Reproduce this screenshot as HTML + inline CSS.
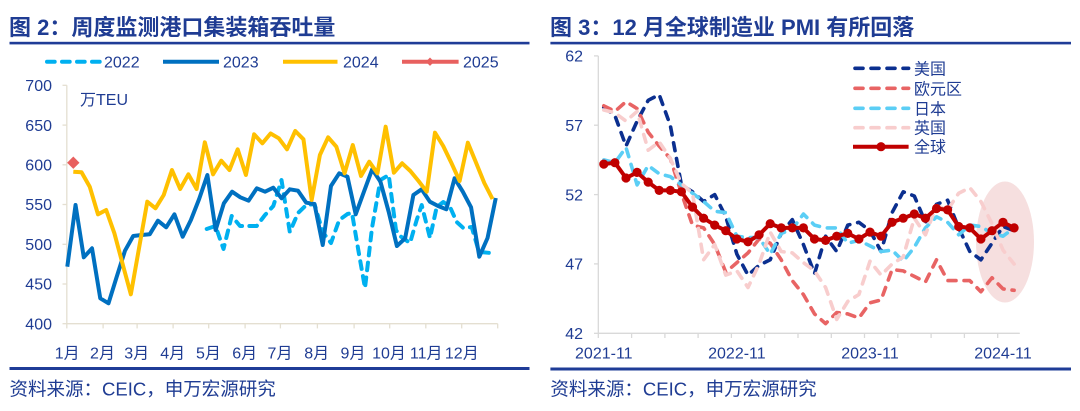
<!DOCTYPE html>
<html>
<head>
<meta charset="utf-8">
<style>
html,body{margin:0;padding:0;background:#fff;}
body{width:1080px;height:411px;overflow:hidden;}
svg{display:block;}
text{font-family:"Liberation Sans","Noto Sans CJK SC",sans-serif;fill:#1F3C93;}
</style>
</head>
<body>
<svg width="1080" height="411" viewBox="0 0 1080 411" xmlns="http://www.w3.org/2000/svg">
<!-- ================= LEFT PANEL ================= -->
<text x="9" y="35" font-size="22" font-weight="bold" fill="#17398F">图 2：周度监测港口集装箱吞吐量</text>
<rect x="9.5" y="41.8" width="520" height="2.6" fill="#1F3C97"/>

<!-- legend -->
<line x1="47" y1="61.7" x2="100" y2="61.7" stroke="#00B0F0" stroke-width="4" stroke-dasharray="7.7,7.3" stroke-linecap="round"/>
<text x="104" y="67.4" font-size="16">2022</text>
<line x1="163" y1="61.7" x2="219" y2="61.7" stroke="#0070C0" stroke-width="4"/>
<text x="223" y="67.4" font-size="16">2023</text>
<line x1="283" y1="61.7" x2="337.5" y2="61.7" stroke="#FFC000" stroke-width="4"/>
<text x="343" y="67.4" font-size="16">2024</text>
<line x1="402" y1="61.7" x2="458.6" y2="61.7" stroke="#E8605F" stroke-width="4"/>
<polygon points="430,57.5 434.2,61.7 430,65.9 425.8,61.7" fill="#E8605F"/>
<text x="463" y="67.4" font-size="16">2025</text>

<!-- axes -->
<g stroke="#E4DFD1" stroke-width="1.3" fill="none">
<line x1="66.8" y1="85.3" x2="66.8" y2="323.7"/>
<line x1="66.8" y1="323.7" x2="497.7" y2="323.7"/>
<line x1="62.5" y1="85.3" x2="66.8" y2="85.3"/>
<line x1="62.5" y1="125.1" x2="66.8" y2="125.1"/>
<line x1="62.5" y1="164.8" x2="66.8" y2="164.8"/>
<line x1="62.5" y1="204.5" x2="66.8" y2="204.5"/>
<line x1="62.5" y1="244.3" x2="66.8" y2="244.3"/>
<line x1="62.5" y1="284.0" x2="66.8" y2="284.0"/>
<line x1="62.5" y1="323.7" x2="66.8" y2="323.7"/>
<line x1="66.8" y1="323.7" x2="66.8" y2="328.4"/>
<line x1="103.1" y1="323.7" x2="103.1" y2="328.4"/>
<line x1="137.1" y1="323.7" x2="137.1" y2="328.4"/>
<line x1="173.1" y1="323.7" x2="173.1" y2="328.4"/>
<line x1="208.7" y1="323.7" x2="208.7" y2="328.4"/>
<line x1="245.1" y1="323.7" x2="245.1" y2="328.4"/>
<line x1="280.4" y1="323.7" x2="280.4" y2="328.4"/>
<line x1="317.4" y1="323.7" x2="317.4" y2="328.4"/>
<line x1="354.1" y1="323.7" x2="354.1" y2="328.4"/>
<line x1="389.7" y1="323.7" x2="389.7" y2="328.4"/>
<line x1="425.8" y1="323.7" x2="425.8" y2="328.4"/>
<line x1="461.7" y1="323.7" x2="461.7" y2="328.4"/>
<line x1="497.7" y1="323.7" x2="497.7" y2="328.4"/>
</g>

<g font-size="16" text-anchor="end">
<text x="52" y="91">700</text>
<text x="52" y="130.8">650</text>
<text x="52" y="170.5">600</text>
<text x="52" y="210.2">550</text>
<text x="52" y="250">500</text>
<text x="52" y="289.7">450</text>
<text x="52" y="329.4">400</text>
</g>
<text x="80" y="105" font-size="16">万TEU</text>

<g font-size="16" text-anchor="middle">
<text x="67.2" y="358.5">1月</text>
<text x="102.5" y="358.5">2月</text>
<text x="136.7" y="358.5">3月</text>
<text x="172.7" y="358.5">4月</text>
<text x="208.4" y="358.5">5月</text>
<text x="244.7" y="358.5">6月</text>
<text x="280" y="358.5">7月</text>
<text x="316.7" y="358.5">8月</text>
<text x="353" y="358.5">9月</text>
<text x="389" y="358.5">10月</text>
<text x="426.2" y="358.5">11月</text>
<text x="461.8" y="358.5">12月</text>
</g>

<!-- 2022 dashed -->
<polyline fill="none" stroke="#00B0F0" stroke-width="4" stroke-dasharray="7.7,7.3" stroke-linecap="round" stroke-linejoin="round"
points="206.7,229 215.5,226 223.5,249 231.7,216 240,226 248.5,226 256.7,226 265,215 273.3,206 281.5,180 289.8,232 298,213 306.3,205 314.5,204 322.7,232 331,243 339.2,220 347.5,214 352,213 358.3,250 365,288 372,228 380.4,180 388.7,175 396,230 400,236 410,243 416.7,220 421.7,205 430,238 436.7,207 443.3,202 450,207 456.7,222 463.3,228 471.7,227 479,252 491,253"/>

<!-- 2023 -->
<polyline fill="none" stroke="#0070C0" stroke-width="4" stroke-linejoin="round"
points="67.3,266.7 75.54,205 83.78,257.3 92.02,248.3 100.26,298.3 108.5,303.3 116.74,276.7 124.98,250.7 133.22,236 141.46,235 149.7,234.3 157.94,220.7 166.18,227.3 174.42,214.3 182.66,236.7 190.9,220 199.14,199 207.38,175 215.62,230 223.86,203.3 232.1,191.7 240.34,197.3 248.58,200.7 256.82,188.3 265.06,191.7 273.3,187.7 281.54,198.3 289.78,189.3 298.02,190.7 306.26,202.7 314.5,204 322.74,245 330.98,186 339.22,173.3 347.46,176.7 355.7,214.3 363.94,191.7 372.18,169.3 380.42,181.7 388.66,211.7 396.9,246 405.14,238.3 413.38,195 421.62,189.3 429.86,201.7 438.1,206 446.34,209.3 454.58,178.3 462.82,191.7 471.06,207.3 479.3,256.7 487.54,238 495.78,198"/>

<!-- 2024 -->
<polyline fill="none" stroke="#FFC000" stroke-width="4" stroke-linejoin="round"
points="73.3,171.7 81.52,172.3 89.74,186.7 97.96,214.3 106.18,210 114.4,233.3 122.62,264 130.84,294.3 139.06,248 147.28,201.7 155.5,208.3 163.72,195 171.94,170 180.16,189 188.38,174.3 196.6,189 204.82,142.3 213.04,174.3 221.26,160.7 229.48,170 237.7,149.3 245.92,175 254.14,134.3 262.36,143.3 270.58,133.5 278.8,138.3 287.02,149.3 295.24,131 303.46,139.3 311.68,200 319.9,155 328.12,137.3 336.34,146.7 344.56,173.3 352.78,145 361,176 369.22,161.7 377.44,173.3 385.66,126.7 393.88,172.7 402.1,163.3 410.32,171 418.54,181 426.76,191.7 434.98,132.7 443.2,146 451.42,163 459.64,181 467.86,142.7 476.08,162.7 484.3,183 492.52,199"/>

<!-- 2025 -->
<polygon points="73.3,156.5 79.5,162.7 73.3,168.9 67.1,162.7" fill="#E8605F"/>

<rect x="9.5" y="367" width="520" height="3" fill="#1F3C97"/>
<text x="9.5" y="395.3" font-size="18.5">资料来源：CEIC，申万宏源研究</text>

<!-- ================= RIGHT PANEL ================= -->
<text x="550" y="35" font-size="22" font-weight="bold" fill="#17398F">图 3：12 月全球制造业 PMI 有所回落</text>
<rect x="550.4" y="41.8" width="520.6" height="2.6" fill="#1F3C97"/>

<!-- highlight ellipse -->
<ellipse cx="1005" cy="242" rx="29" ry="60.5" fill="#F6DFDF"/>

<!-- axes -->
<g stroke="#D9D9D9" stroke-width="1.3" fill="none">
<line x1="598.3" y1="55.9" x2="598.3" y2="333.3"/>
<line x1="598.3" y1="333.3" x2="1019.8" y2="333.3"/>
<line x1="594" y1="55.9" x2="598.3" y2="55.9"/>
<line x1="594" y1="125.2" x2="598.3" y2="125.2"/>
<line x1="594" y1="194.6" x2="598.3" y2="194.6"/>
<line x1="594" y1="263.9" x2="598.3" y2="263.9"/>
<line x1="594" y1="333.3" x2="598.3" y2="333.3"/>
<line x1="598.3" y1="333.3" x2="598.3" y2="338"/>
<line x1="631.6" y1="333.3" x2="631.6" y2="338"/>
<line x1="664.9" y1="333.3" x2="664.9" y2="338"/>
<line x1="698.1" y1="333.3" x2="698.1" y2="338"/>
<line x1="731.4" y1="333.3" x2="731.4" y2="338"/>
<line x1="764.7" y1="333.3" x2="764.7" y2="338"/>
<line x1="798" y1="333.3" x2="798" y2="338"/>
<line x1="831.3" y1="333.3" x2="831.3" y2="338"/>
<line x1="864.5" y1="333.3" x2="864.5" y2="338"/>
<line x1="897.8" y1="333.3" x2="897.8" y2="338"/>
<line x1="931.1" y1="333.3" x2="931.1" y2="338"/>
<line x1="964.4" y1="333.3" x2="964.4" y2="338"/>
<line x1="997.7" y1="333.3" x2="997.7" y2="338"/>
</g>

<g font-size="16" text-anchor="end">
<text x="583" y="61.6">62</text>
<text x="583" y="130.9">57</text>
<text x="583" y="200.3">52</text>
<text x="583" y="269.6">47</text>
<text x="583" y="339">42</text>
</g>
<g font-size="16" text-anchor="middle">
<text x="603.8" y="358.5">2021-11</text>
<text x="736.9" y="358.5">2022-11</text>
<text x="870" y="358.5">2023-11</text>
<text x="1003" y="358.5">2024-11</text>
</g>

<!-- US -->
<polyline fill="none" stroke="#0B2F8F" stroke-width="3.6" stroke-dasharray="8,8" stroke-linecap="round" stroke-linejoin="round"
points="603.8,107.2 614.9,115.5 626,146.1 637.1,121.1 648.2,100.3 659.2,94.7 670.3,125.3 681.4,184.9 692.5,191.8 703.6,201.5 714.7,194.6 725.8,216.8 736.9,254.2 748,275.1 759.1,265.3 770.2,259.8 781.2,233.4 792.3,219.6 803.4,244.5 814.5,273.7 825.6,236.2 836.7,251.5 847.8,225.1 858.9,222.3 870,230.7 881.1,251.5 892.1,212.6 903.2,191.8 914.3,196 925.4,222.3 936.5,204.3 947.6,200.2 958.7,227.9 969.8,251.5 980.9,259.8 992,243.2 1003,226.5 1014.1,230.7"/>

<!-- Eurozone -->
<polyline fill="none" stroke="#E86464" stroke-width="3.6" stroke-dasharray="8,8" stroke-linecap="round" stroke-linejoin="round"
points="603.8,105.8 614.9,111.4 626,101.7 637.1,108.6 648.2,132.2 659.2,146.1 670.3,158.5 681.4,193.2 692.5,225.1 703.6,227.9 714.7,244.5 725.8,272.3 736.9,262.6 748,252.9 759.1,239 770.2,243.2 781.2,259.8 792.3,280.6 803.4,294.5 814.5,313.9 825.6,323.6 836.7,312.5 847.8,313.9 858.9,318 870,302.8 881.1,300 892.1,269.5 903.2,270.9 914.3,276.4 925.4,282 936.5,259.8 947.6,280.6 958.7,280.6 969.8,280.6 980.9,291.7 992,277.8 1003,288.9 1014.1,290.3"/>

<!-- Japan -->
<polyline fill="none" stroke="#5BCEF5" stroke-width="3.6" stroke-dasharray="8,8" stroke-linecap="round" stroke-linejoin="round"
points="603.8,159.9 614.9,162.7 626,147.4 637.1,184.9 648.2,165.5 659.2,173.8 670.3,176.6 681.4,184.9 692.5,193.2 703.6,201.5 714.7,211.2 725.8,212.6 736.9,236.2 748,237.6 759.1,237.6 770.2,254.2 781.2,233.4 792.3,229.3 803.4,214 814.5,225.1 825.6,227.9 836.7,227.9 847.8,243.2 858.9,240.4 870,245.9 881.1,251.5 892.1,250.1 903.2,261.2 914.3,247.3 925.4,227.9 936.5,216.8 947.6,222.3 958.7,234.8 969.8,225.1 980.9,226.5 992,233.4 1003,236.2 1014.1,227.9"/>

<!-- UK -->
<polyline fill="none" stroke="#F8CDCD" stroke-width="3.6" stroke-dasharray="8,8" stroke-linecap="round" stroke-linejoin="round"
points="603.8,110 614.9,112.8 626,121.1 637.1,111.4 648.2,150.2 659.2,141.9 670.3,158.5 681.4,183.5 692.5,193.2 703.6,259.8 714.7,244.5 725.8,275.1 736.9,270.9 748,287.5 759.1,264 770.2,232.1 781.2,251.5 792.3,252.9 803.4,262.6 814.5,270.9 825.6,287.5 836.7,319.4 847.8,301.4 858.9,294.5 870,261.2 881.1,275.1 892.1,264 903.2,257 914.3,218.2 925.4,234.8 936.5,205.7 947.6,209.9 958.7,193.2 969.8,187.7 980.9,201.5 992,223.7 1003,250.1 1014.1,264"/>

<!-- Global -->
<polyline fill="none" stroke="#C00000" stroke-width="4" stroke-linejoin="round"
points="603.8,164.1 614.9,162.7 626,178 637.1,172.4 648.2,182.1 659.2,190.4 670.3,190.4 681.4,191.8 692.5,207.1 703.6,218.2 714.7,225.1 725.8,230.7 736.9,239 748,241.8 759.1,234.8 770.2,223.7 781.2,227.9 792.3,227.9 803.4,227.9 814.5,239 825.6,240.4 836.7,236.2 847.8,233.4 858.9,239 870,232.1 881.1,236.2 892.1,222.3 903.2,218.2 914.3,214 925.4,218.2 936.5,208.5 947.6,209.9 958.7,226.5 969.8,227.9 980.9,239 992,230.7 1003,222.3 1014.1,227.9"/>
<g fill="#C00000">
<circle cx="603.8" cy="164.1" r="4.6"/><circle cx="614.9" cy="162.7" r="4.6"/><circle cx="626" cy="178" r="4.6"/><circle cx="637.1" cy="172.4" r="4.6"/><circle cx="648.2" cy="182.1" r="4.6"/><circle cx="659.2" cy="190.4" r="4.6"/><circle cx="670.3" cy="190.4" r="4.6"/><circle cx="681.4" cy="191.8" r="4.6"/><circle cx="692.5" cy="207.1" r="4.6"/><circle cx="703.6" cy="218.2" r="4.6"/><circle cx="714.7" cy="225.1" r="4.6"/><circle cx="725.8" cy="230.7" r="4.6"/><circle cx="736.9" cy="239" r="4.6"/><circle cx="748" cy="241.8" r="4.6"/><circle cx="759.1" cy="234.8" r="4.6"/><circle cx="770.2" cy="223.7" r="4.6"/><circle cx="781.2" cy="227.9" r="4.6"/><circle cx="792.3" cy="227.9" r="4.6"/><circle cx="803.4" cy="227.9" r="4.6"/><circle cx="814.5" cy="239" r="4.6"/><circle cx="825.6" cy="240.4" r="4.6"/><circle cx="836.7" cy="236.2" r="4.6"/><circle cx="847.8" cy="233.4" r="4.6"/><circle cx="858.9" cy="239" r="4.6"/><circle cx="870" cy="232.1" r="4.6"/><circle cx="881.1" cy="236.2" r="4.6"/><circle cx="892.1" cy="222.3" r="4.6"/><circle cx="903.2" cy="218.2" r="4.6"/><circle cx="914.3" cy="214" r="4.6"/><circle cx="925.4" cy="218.2" r="4.6"/><circle cx="936.5" cy="208.5" r="4.6"/><circle cx="947.6" cy="209.9" r="4.6"/><circle cx="958.7" cy="226.5" r="4.6"/><circle cx="969.8" cy="227.9" r="4.6"/><circle cx="980.9" cy="239" r="4.6"/><circle cx="992" cy="230.7" r="4.6"/><circle cx="1003" cy="222.3" r="4.6"/><circle cx="1014.1" cy="227.9" r="4.6"/>
</g>

<!-- legend right -->
<line x1="855" y1="68.3" x2="908.6" y2="68.3" stroke="#0B2F8F" stroke-width="3.6" stroke-dasharray="8,8" stroke-linecap="round"/>
<text x="914" y="74.3" font-size="16">美国</text>
<line x1="855" y1="88.3" x2="908.6" y2="88.3" stroke="#E86464" stroke-width="3.6" stroke-dasharray="8,8" stroke-linecap="round"/>
<text x="914" y="94.3" font-size="16">欧元区</text>
<line x1="855" y1="108.3" x2="908.6" y2="108.3" stroke="#5BCEF5" stroke-width="3.6" stroke-dasharray="8,8" stroke-linecap="round"/>
<text x="914" y="114.3" font-size="16">日本</text>
<line x1="855" y1="127.7" x2="908.6" y2="127.7" stroke="#F8CDCD" stroke-width="3.6" stroke-dasharray="8,8" stroke-linecap="round"/>
<text x="914" y="133.7" font-size="16">英国</text>
<line x1="853" y1="146.7" x2="908.6" y2="146.7" stroke="#C00000" stroke-width="4"/>
<circle cx="881" cy="146.7" r="4.6" fill="#C00000"/>
<text x="914" y="152.7" font-size="16">全球</text>

<rect x="550.4" y="367.5" width="520.6" height="3" fill="#1F3C97"/>
<text x="550.4" y="395.3" font-size="18.5">资料来源：CEIC，申万宏源研究</text>
</svg>
</body>
</html>
